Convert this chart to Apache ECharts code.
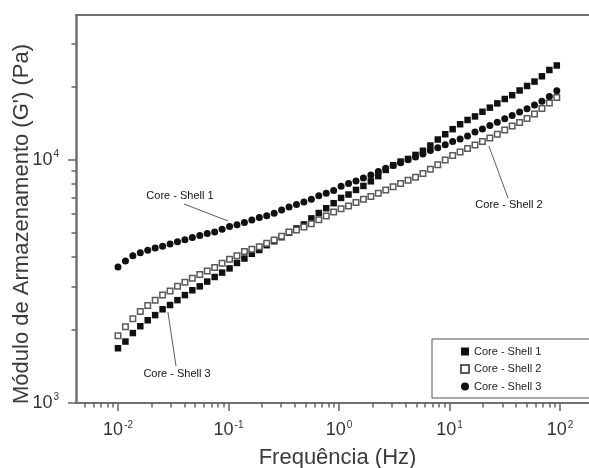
<!DOCTYPE html>
<html>
<head>
<meta charset="utf-8">
<script src="https://cdn.jsdelivr.net/npm/echarts@6/dist/echarts.min.js"></script>
<style>
  html, body { margin: 0; padding: 0; background: #fff; }
  #chart { width: 589px; height: 468px; }
</style>
</head>
<body>
<div id="chart"></div>
<script>
// frequency sweep (Hz)
const freq = [
  0.01, 0.01168, 0.01363, 0.01592, 0.01858, 0.0217, 0.02533, 0.02958, 0.03453, 0.04032,
  0.04708, 0.05497, 0.06418, 0.07494, 0.0875, 0.1022, 0.1193, 0.1393, 0.1626, 0.1899,
  0.2217, 0.2589, 0.3023, 0.3529, 0.4121, 0.4811, 0.5618, 0.6559, 0.7659, 0.8942,
  1.044, 1.219, 1.424, 1.662, 1.941, 2.266, 2.646, 3.089, 3.607, 4.212,
  4.918, 5.742, 6.704, 7.828, 9.14, 10.67, 12.46, 14.55, 16.99, 19.84,
  23.16, 27.04, 31.57, 36.87, 43.05, 50.26, 58.68, 68.52, 80.0, 93.4
];

// G' (Pa)
const shell1 = [
  1680, 1790, 1940, 2070, 2190, 2300, 2430, 2530, 2650, 2780,
  2910, 3020, 3160, 3300, 3440, 3580, 3770, 3930, 4110, 4260,
  4460, 4630, 4810, 5020, 5230, 5430, 5750, 6050, 6330, 6640,
  6980, 7210, 7530, 7820, 8170, 8580, 9100, 9520, 9850, 10100,
  10490, 10910, 11470, 12140, 12760, 13390, 14030, 14610, 15110, 15790,
  16420, 17100, 17820, 18480, 19320, 20160, 21020, 22100, 23460, 24480
];
const shell2 = [
  1890, 2060, 2220, 2380, 2520, 2650, 2780, 2890, 3020, 3140,
  3260, 3380, 3490, 3610, 3760, 3900, 4040, 4200, 4290, 4400,
  4540, 4690, 4860, 5050, 5150, 5300, 5460, 5670, 5880, 6110,
  6300, 6470, 6690, 6900, 7080, 7300, 7530, 7760, 8000, 8250,
  8500, 8790, 9160, 9550, 10000, 10440, 10790, 11150, 11530, 11920,
  12320, 12760, 13290, 13800, 14250, 14820, 15460, 16290, 17160, 18080
];
const shell3 = [
  3630, 3840, 4040, 4150, 4250, 4340, 4420, 4510, 4610, 4700,
  4800, 4890, 4980, 5060, 5190, 5320, 5420, 5530, 5660, 5800,
  5900, 6040, 6220, 6410, 6560, 6710, 6900, 7120, 7300, 7490,
  7800, 8010, 8200, 8440, 8680, 8960, 9240, 9480, 9730, 10020,
  10290, 10590, 10930, 11230, 11540, 11900, 12210, 12550, 13040, 13420,
  13870, 14290, 14770, 15250, 15750, 16260, 16840, 17440, 18250, 19290
];

const seriesNames = ['Core - Shell 1', 'Core - Shell 2', 'Core - Shell 3'];

// tick positions
const xMajor = [0.01, 0.1, 1, 10, 100];
const xMinor = [
  0.005, 0.006, 0.007, 0.008, 0.009,
  0.02, 0.03, 0.04, 0.05, 0.06, 0.07, 0.08, 0.09,
  0.2, 0.3, 0.4, 0.5, 0.6, 0.7, 0.8, 0.9,
  2, 3, 4, 5, 6, 7, 8, 9,
  20, 30, 40, 50, 60, 70, 80, 90, 200
];
const yMajor = [1000, 10000];
const yMinor = [2000, 3000, 4000, 5000, 6000, 7000, 8000, 9000, 20000, 30000];

// text labels with arrows (data coordinates)
const annotations = [
  { text: 'Core - Shell 1', at: [0.0364, 7110], from: [0.0396, 6590], to: [0.099, 5610] },
  { text: 'Core - Shell 2', at: [34.5, 6530], from: [33.8, 6980], to: [22.7, 11420] },
  { text: 'Core - Shell 3', at: [0.0342, 1316], from: [0.0335, 1419], to: [0.0283, 2369] }
];

const xMin = 0.00417, xMax = 225;
const yMin = 1000, yMax = 39500;

const FONT = '"Liberation Sans", Arial, sans-serif';
const axisColor = '#707070';
const tickStyle = { color: '#666', width: 1.5 };

const powLabel = (v) => {
  const e = Math.round(Math.log10(v));
  return '{b|10}{s|' + (e < 0 ? '-' + (-e) : e) + '}';
};
const powRich = {
  b: { fontSize: 18, color: '#333', fontFamily: FONT, lineHeight: 21 },
  s: { fontSize: 10, color: '#333', fontFamily: FONT, verticalAlign: 'top', padding: [0, 0, 0, 1] }
};

const chart = echarts.init(document.getElementById('chart'), null, { renderer: 'canvas' });

const pairs = (ys) => freq.map((f, i) => [f, ys[i]]);

const option = {
  backgroundColor: '#fff',
  animation: false,
  textStyle: { fontFamily: FONT },
  grid: { left: 76, right: -10, top: 15, bottom: 65, containLabel: false, outerBoundsMode: 'none' },
  legend: {
    orient: 'vertical',
    left: 432,
    top: 339,
    padding: [7, 70, 6, 28],
    itemGap: 6.5,
    itemWidth: 8,
    itemHeight: 8,
    borderColor: '#555',
    borderWidth: 1,
    textStyle: { fontSize: 11, color: '#222', fontFamily: FONT },
    data: seriesNames
  },
  xAxis: [
    {
      type: 'log', logBase: 10, min: xMin, max: xMax, position: 'bottom',
      axisLine: { show: true, onZero: false, lineStyle: { color: axisColor, width: 2 } },
      axisTick: { show: true, length: 8, lineStyle: tickStyle, customValues: xMajor },
      axisLabel: { customValues: xMajor, formatter: powLabel, rich: powRich, margin: 17 },
      splitLine: { show: false },
      name: 'Frequência (Hz)', nameLocation: 'middle', nameGap: 44, nameMoveOverlap: false,
      nameTextStyle: { fontSize: 22, color: '#3a3a3a', fontFamily: FONT }
    },
    {
      type: 'log', logBase: 10, min: xMin, max: xMax, position: 'bottom',
      axisLine: { show: false, onZero: false },
      axisTick: { show: true, length: 4.5, lineStyle: tickStyle, customValues: xMinor },
      axisLabel: { show: false },
      splitLine: { show: false }
    },
    {
      type: 'log', logBase: 10, min: xMin, max: xMax, position: 'top',
      axisLine: { show: true, onZero: false, lineStyle: { color: axisColor, width: 2 } },
      axisTick: { show: false },
      axisLabel: { show: false },
      splitLine: { show: false }
    }
  ],
  yAxis: [
    {
      type: 'log', logBase: 10, min: yMin, max: yMax, position: 'left',
      axisLine: { show: true, onZero: false, lineStyle: { color: axisColor, width: 2.5 } },
      axisTick: { show: true, length: 8, lineStyle: tickStyle, customValues: yMajor },
      axisLabel: { customValues: yMajor, formatter: powLabel, rich: powRich, margin: 17 },
      splitLine: { show: false },
      name: "Módulo de Armazenamento (G') (Pa)", nameLocation: 'middle', nameGap: 43, nameMoveOverlap: false,
      nameTextStyle: { fontSize: 22, color: '#3a3a3a', fontFamily: FONT, padding: [0, 30, 0, 0] }
    },
    {
      type: 'log', logBase: 10, min: yMin, max: yMax, position: 'left',
      axisLine: { show: false, onZero: false },
      axisTick: { show: true, length: 4.5, lineStyle: tickStyle, customValues: yMinor },
      axisLabel: { show: false },
      splitLine: { show: false }
    }
  ],
  series: [
    {
      name: seriesNames[0], type: 'scatter', xAxisIndex: 0, yAxisIndex: 0,
      symbol: 'rect', symbolSize: 6.5,
      itemStyle: { color: '#111', opacity: 1 },
      data: pairs(shell1),
      markLine: {
        silent: true, animation: false,
        symbol: ['none', 'arrow'], symbolSize: [0, 6],
        lineStyle: { color: '#333', width: 0.8, type: 'solid' },
        label: { show: false },
        emphasis: { disabled: true },
        data: annotations.map(a => [{ coord: a.from }, { coord: a.to }])
      },
      markPoint: {
        silent: true, animation: false,
        symbol: 'circle', symbolSize: 0,
        label: { show: true, position: 'inside', color: '#111', fontSize: 11, fontFamily: FONT },
        data: annotations.map(a => ({ coord: a.at, label: { formatter: a.text } }))
      }
    },
    {
      name: seriesNames[1], type: 'scatter', xAxisIndex: 0, yAxisIndex: 0,
      symbol: 'rect', symbolSize: 5.5,
      itemStyle: { color: '#fff', borderColor: '#5a5a5a', borderWidth: 1.5, opacity: 1 },
      data: pairs(shell2)
    },
    {
      name: seriesNames[2], type: 'scatter', xAxisIndex: 0, yAxisIndex: 0,
      symbol: 'circle', symbolSize: 7,
      itemStyle: { color: '#111', opacity: 1 },
      data: pairs(shell3)
    }
  ]
};

chart.setOption(option);
window.addEventListener('resize', () => chart.resize());
</script>
</body>
</html>
